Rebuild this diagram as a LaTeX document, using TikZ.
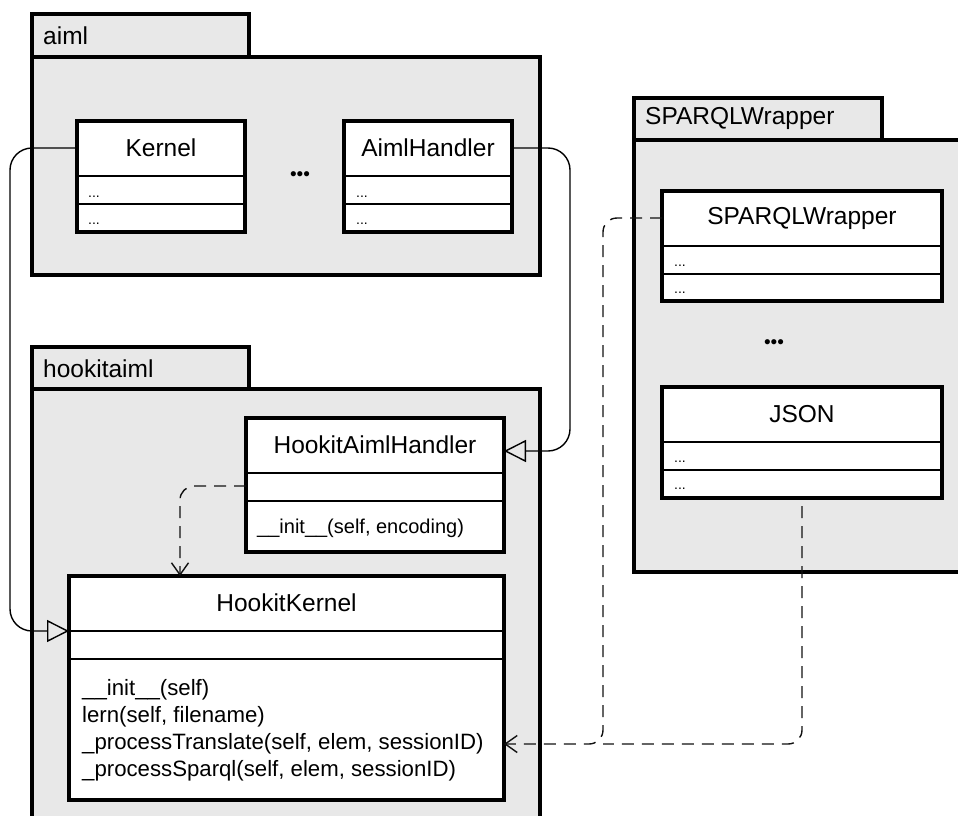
\documentclass[tikz,border=0pt]{standalone}
\usepackage{fontspec}
\setmainfont{Liberation Sans}
\usetikzlibrary{arrows.meta}
\definecolor{pkgfill}{HTML}{E8E8E8}
\definecolor{linkgray}{HTML}{111111}

% class box with title and two compartment separators
\newcommand{\umlclass}[5]{%
  \node[classbox, minimum width=#3, minimum height=#4, anchor=north west] (#1) at (#2) {};
  \node[classtitle] (#1-title) at ([yshift=-27pt]#1.north) {#5};
  \draw[compline] ([yshift=-55pt]#1.north west) -- ([yshift=-55pt]#1.north east);
  \draw[compline] ([yshift=-83pt]#1.north west) -- ([yshift=-83pt]#1.north east);
}

\begin{document}
\begin{tikzpicture}[x=1pt,y=-1pt,
  pkgline/.style={draw=black, line width=3.6pt, fill=pkgfill},
  pkglabel/.style={anchor=west, inner sep=0pt, font=\fontsize{24.5}{29}\selectfont},
  classbox/.style={draw=black, line width=3.8pt, fill=white, inner sep=0pt, outer sep=0pt},
  compline/.style={draw=black, line width=1.4pt},
  classtitle/.style={inner sep=0pt, font=\fontsize{24.5}{29}\selectfont},
  attrtext/.style={inner sep=0pt, anchor=base west, font=\fontsize{14}{17}\selectfont},
  optext/.style={inner sep=0pt, anchor=base west, font=\fontsize{22.2}{27}\selectfont},
  smallop/.style={inner sep=0pt, anchor=base west, font=\fontsize{20}{24}\selectfont},
  ellip/.style={inner sep=0pt, font=\fontsize{19}{20}\selectfont},
  inherit/.style={draw=black, line width=1.4pt, rounded corners=22pt,
    -{Triangle[open, length=22pt, width=22pt]}},
  depend/.style={draw=linkgray, line width=1.4pt, dash pattern=on 12pt off 8pt,
    rounded corners=14pt},
  deptip/.style={-{Straight Barb[length=12pt, width=17pt]}},
]
\useasboundingbox (0,0) rectangle (958,816);
\clip (0,0) rectangle (958,816);

% ---------- packages ----------
\path[pkgline] (32,14) rectangle (249,57);
\path[pkgline] (32,57) rectangle (540,275);
\node[pkglabel] (aimlname) at (43,36) {aiml};

\path[pkgline] (32,347) rectangle (249,389);
\path[pkgline] (32,389) rectangle (540,840);
\node[pkglabel] (hookitname) at (43,369) {hookitaiml};

\path[pkgline] (634,98) rectangle (882,140);
\path[pkgline] (634,140) rectangle (980,572);
\node[pkglabel] (sparqlname) at (645,118) {SPARQLWrapper};

% ---------- aiml classes ----------
\umlclass{kernel}{77,121}{168pt}{111pt}{Kernel}
\node[attrtext] (kernel-attrs) at ([xshift=11pt,yshift=-76pt]kernel.north west) {...};
\node[attrtext] (kernel-ops) at ([xshift=11pt,yshift=-103pt]kernel.north west) {...};

\umlclass{aimlhandler}{344,121}{168pt}{111pt}{AimlHandler}
\node[attrtext] (aimlhandler-attrs) at ([xshift=12pt,yshift=-76pt]aimlhandler.north west) {...};
\node[attrtext] (aimlhandler-ops) at ([xshift=12pt,yshift=-103pt]aimlhandler.north west) {...};

\node[ellip] (aimldots) at (300,176) {•••};

% ---------- SPARQLWrapper classes ----------
\umlclass{sparqlwrapper}{662,191}{280pt}{110pt}{SPARQLWrapper}
\node[attrtext] (sparqlwrapper-attrs) at ([xshift=12pt,yshift=-75pt]sparqlwrapper.north west) {...};
\node[attrtext] (sparqlwrapper-ops) at ([xshift=12pt,yshift=-102pt]sparqlwrapper.north west) {...};

\node[ellip] (sparqldots) at (774,344) {•••};

\umlclass{json}{662,387}{280pt}{111pt}{JSON}
\node[attrtext] (json-attrs) at ([xshift=12pt,yshift=-75pt]json.north west) {...};
\node[attrtext] (json-ops) at ([xshift=12pt,yshift=-102pt]json.north west) {...};

% ---------- hookitaiml classes ----------
\umlclass{hookitaimlhandler}{246,418}{258pt}{134pt}{HookitAimlHandler}
\node[smallop] (hah-init) at ([xshift=11pt,yshift=-115pt]hookitaimlhandler.north west)
  {\_\_init\_\_(self, encoding)};

\umlclass{hookitkernel}{69,576}{435pt}{224pt}{HookitKernel}
\node[optext] (hk-init) at ([xshift=13pt,yshift=-119pt]hookitkernel.north west) {\_\_init\_\_(self)};
\node[optext] (hk-lern) at ([xshift=13pt,yshift=-146pt]hookitkernel.north west) {lern(self, filename)};
\node[optext] (hk-translate) at ([xshift=13pt,yshift=-173pt]hookitkernel.north west)
  {\_processTranslate(self, elem, sessionID)};
\node[optext] (hk-sparql) at ([xshift=13pt,yshift=-200pt]hookitkernel.north west)
  {\_processSparql(self, elem, sessionID)};

% ---------- relations ----------
% generalisations, leaving each parent class at its title row
\draw[inherit] ([yshift=-27pt]kernel.north west) -- ++(-67,0)
  |- ([yshift=-55pt]hookitkernel.north west);
\draw[inherit] ([yshift=-27pt]aimlhandler.north east) -- ++(58,0)
  |- ([yshift=-33pt]hookitaimlhandler.north east);

% dependencies
\draw[depend, deptip] ([yshift=-68pt]hookitaimlhandler.north west)
  -| ([xshift=111pt]hookitkernel.north west);

\coordinate (junction) at (603,744);
\draw[depend, deptip] ([yshift=-27pt]sparqlwrapper.north west) -| (junction)
  -- ([yshift=-168pt]hookitkernel.north east);
\draw[depend, dash phase=12pt] (json.south) |- (junction);
\end{tikzpicture}
\end{document}
